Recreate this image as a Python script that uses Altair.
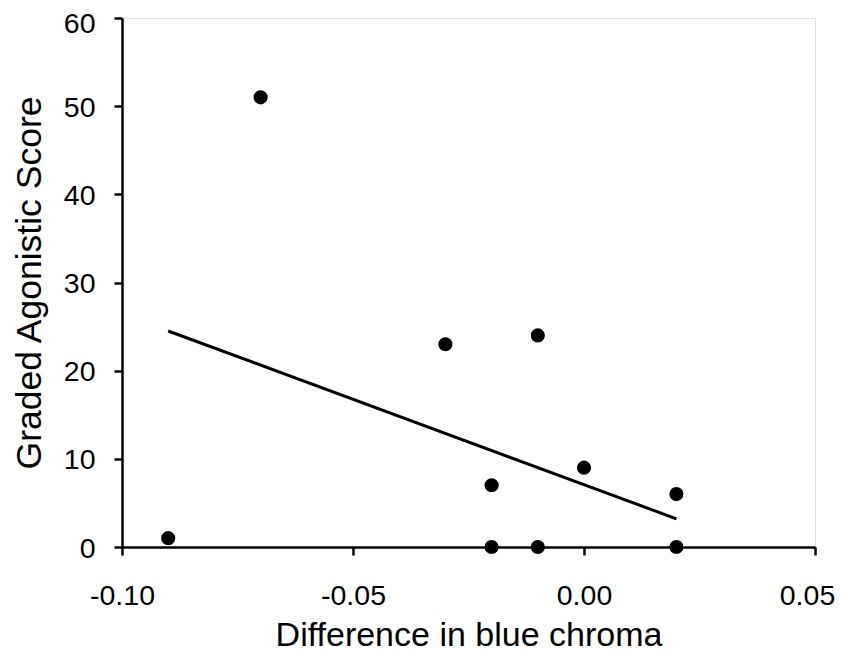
import altair as alt
import pandas as pd

# Scatter data
chroma_diff = [-0.09, -0.07, -0.03, -0.01, -0.02, 0.00, 0.02, -0.02, -0.01, 0.02]
agonistic_score = [1, 51, 23, 24, 7, 9, 6, 0, 0, 0]

# Fitted trend line endpoints
line_x = [-0.09, 0.02]
line_y = [24.5, 3.2]

# Axis ticks
x_ticks = [-0.10, -0.05, 0.00, 0.05]
y_ticks = [0, 10, 20, 30, 40, 50, 60]

pts = pd.DataFrame({"x": chroma_diff, "y": agonistic_score})
fit = pd.DataFrame({"x": line_x, "y": line_y})

FONT = "Liberation Sans"

x_enc = alt.X(
    "x:Q",
    scale=alt.Scale(domain=[-0.10, 0.05], nice=False, zero=False),
    axis=alt.Axis(
        title="Difference in blue chroma",
        values=x_ticks,
        labelExpr="replace(format(datum.value, '.2f'), '\u2212', '-')",
        labelFlush=False,
        labelOverlap=False,
        labelOffset={"condition": {"test": "datum.value > 0.04", "value": -8}, "value": 0},
        grid=False,
        domainColor="black",
        domainWidth=2.5,
        tickColor="black",
        tickWidth=2.5,
        tickSize=8,
        labelFont=FONT,
        labelFontSize=28.5,
        labelColor="black",
        labelPadding=26,
        titleFont=FONT,
        titleFontSize=34,
        titleFontWeight="normal",
        titleColor="black",
        titlePadding=9,
    ),
)

y_enc = alt.Y(
    "y:Q",
    scale=alt.Scale(domain=[0, 60], nice=False),
    axis=alt.Axis(
        title="Graded Agonistic Score",
        values=y_ticks,
        labelFlush=False,
        labelOverlap=False,
        labelOffset={"condition": {"test": "datum.value > 55", "value": 5}, "value": 1},
        grid=False,
        domainColor="black",
        domainWidth=2.5,
        tickColor="black",
        tickWidth=2.5,
        tickSize=8,
        labelFont=FONT,
        labelFontSize=28.5,
        labelColor="black",
        labelPadding=19,
        titleFont=FONT,
        titleFontSize=35.5,
        titleFontWeight="normal",
        titleColor="black",
        titlePadding=16,
    ),
)

points = alt.Chart(pts).mark_circle(size=200, color="black", opacity=1).encode(
    x=x_enc, y=y_enc
)

trend = alt.Chart(fit).mark_line(color="black", strokeWidth=3).encode(
    x="x:Q", y="y:Q"
)

chart = (
    alt.layer(trend, points)
    .properties(
        width=693,
        height=529,
        autosize=alt.AutoSizeParams(type="none"),
        padding={"left": 114, "top": 10, "right": 25, "bottom": 106},
    )
    .configure_view(stroke=None)
    .configure(background="white")
)

chart.save("out.html", embed_options={"renderer": "svg", "actions": False})
